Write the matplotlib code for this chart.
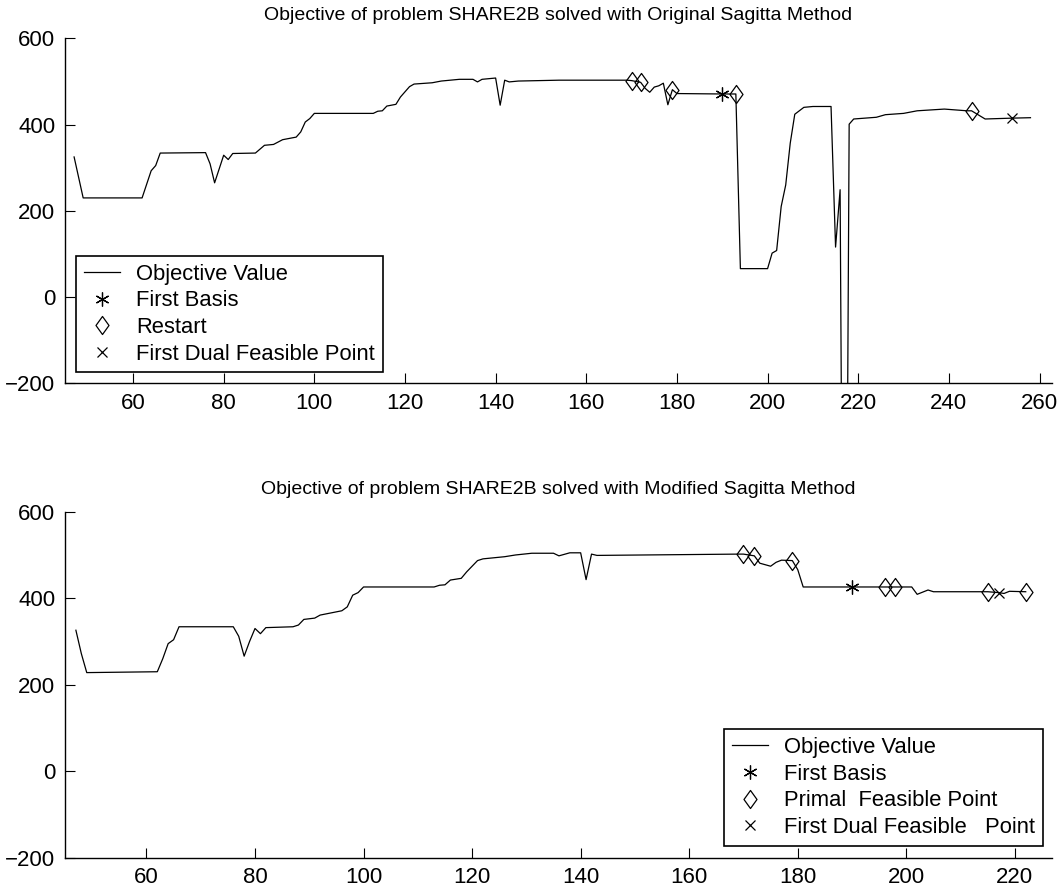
import matplotlib
matplotlib.use('Agg')
import matplotlib.pyplot as plt
from matplotlib.path import Path

plt.rcParams['font.family'] = ['Liberation Sans', 'DejaVu Sans']

# objective value, original sagitta method
x_orig = [47, 49, 62, 64, 65, 66, 76, 77, 78, 80, 81, 82, 87, 89, 91, 93, 96, 97, 98, 99, 100,
          113, 114, 115, 116, 118, 119, 121, 122, 126, 128, 132, 135, 136, 137, 140, 141, 142,
          143, 145, 154, 169, 170, 172, 173, 174, 175, 176, 177, 178, 179, 180, 190, 193, 194,
          200, 201, 202, 203, 204, 205, 206, 207, 208, 210, 214, 215, 216, 217, 218, 219, 224,
          226, 230, 233, 239, 244, 245, 248, 254, 258]
y_orig = [325, 230, 230, 293, 305, 334, 335, 309, 265, 329, 319, 333, 334, 352, 354, 365, 371,
          383, 406, 414, 426, 426, 431, 432, 443, 447, 464, 488, 494, 497, 501, 505, 505, 499,
          505, 508, 445, 503, 499, 501, 503, 503, 502, 498, 484, 475, 487, 490, 496, 446, 481,
          472, 471, 471, 66, 66, 102, 108, 210, 260, 357, 424, 432, 440, 442, 442, 116, 249,
          -1500, 401, 413, 417, 423, 426, 432, 436, 432, 432, 413, 415, 416]
basis_orig_x, basis_orig_y = [190], [471]
restart_x = [170, 172, 179, 193, 245]
restart_y = [502, 498, 481, 471, 432]
dual_orig_x, dual_orig_y = [254], [415]

# objective value, modified sagitta method
x_mod = [47, 48, 49, 62, 63, 64, 65, 66, 76, 77, 78, 79, 80, 81, 82, 87, 88, 89, 91, 92, 94,
         96, 97, 98, 99, 100, 113, 114, 115, 116, 118, 119, 121, 122, 126, 128, 131, 135, 136,
         138, 140, 141, 142, 143, 169, 170, 172, 173, 175, 176, 177, 179, 180, 181, 190, 196,
         198, 201, 202, 204, 205, 212, 215, 217, 218, 219, 222]
y_mod = [326, 272, 228, 230, 260, 295, 304, 334, 334, 312, 266, 300, 330, 318, 332, 334, 338,
         351, 354, 361, 366, 371, 380, 407, 413, 426, 426, 430, 431, 442, 446, 461, 487, 491,
         496, 500, 504, 504, 498, 505, 505, 443, 502, 499, 502, 502, 498, 481, 474, 483, 488,
         487, 466, 426, 426, 426, 426, 426, 409, 419, 415, 415, 415, 413, 411, 416, 415]
basis_mod_x, basis_mod_y = [190], [426]
primal_x = [170, 172, 179, 196, 198, 215, 222]
primal_y = [502, 498, 487, 426, 426, 415, 415]
dual_mod_x, dual_mod_y = [217], [413]

# matlab-like markers: 6-arm asterisk and a diamond a bit taller than wide
star = (6, 2, 0)
diamond = Path([(0, 1), (0.72, 0), (0, -1), (-0.72, 0), (0, 1)],
               [Path.MOVETO, Path.LINETO, Path.LINETO, Path.LINETO, Path.CLOSEPOLY])

fig = plt.figure(figsize=(10.61, 8.94), dpi=100)
ax1 = fig.add_axes([0.0613, 0.5712, 0.930, 0.3859])
ax2 = fig.add_axes([0.0613, 0.0406, 0.930, 0.3870])

def style(ax, xmax, xticks):
    ax.set_xlim(45, xmax)
    ax.set_ylim(-200, 600)
    ax.set_xticks(xticks)
    ax.set_yticks([-200, 0, 200, 400, 600])
    ax.spines['top'].set_visible(False)
    ax.spines['right'].set_visible(False)
    ax.spines['left'].set_linewidth(1.0)
    ax.spines['bottom'].set_linewidth(1.0)
    ax.tick_params(direction='in', length=7, width=0.8, labelsize=16, pad=7)

def draw(ax, x, y, bx, by, px, py, dx, dy, labels, title, loc, anchor):
    ax.plot(x, y, color='black', lw=0.9, label=labels[0])
    ax.plot(bx, by, ls='none', marker=star, ms=10, mec='black', mew=0.9, label=labels[1])
    ax.plot(px, py, ls='none', marker=diamond, ms=13, mfc='none', mec='black', mew=0.9,
            label=labels[2])
    ax.plot(dx, dy, ls='none', marker='x', ms=7, mec='black', mew=0.9, label=labels[3])
    ax.set_title(title, fontsize=14, pad=13)
    leg = ax.legend(loc=loc, bbox_to_anchor=anchor, borderaxespad=0, fontsize=15.8,
                    fancybox=False, framealpha=1, edgecolor='black', handlelength=1.65,
                    handletextpad=0.75, labelspacing=0.26, borderpad=0.35)
    leg.get_frame().set_linewidth(1.2)

draw(ax1, x_orig, y_orig, basis_orig_x, basis_orig_y, restart_x, restart_y,
     dual_orig_x, dual_orig_y,
     ['Objective Value', 'First Basis', 'Restart', 'First Dual Feasible Point'],
     'Objective of problem SHARE2B solved with Original Sagitta Method',
     'lower left', (0.011, 0.032))
style(ax1, 262.7, range(60, 261, 20))

draw(ax2, x_mod, y_mod, basis_mod_x, basis_mod_y, primal_x, primal_y,
     dual_mod_x, dual_mod_y,
     ['Objective Value', 'First Basis', 'Primal  Feasible Point', 'First Dual Feasible   Point'],
     'Objective of problem SHARE2B solved with Modified Sagitta Method',
     'lower right', (0.991, 0.035))
style(ax2, 226.8, range(60, 221, 20))

fig.savefig('out.png', dpi=100)
